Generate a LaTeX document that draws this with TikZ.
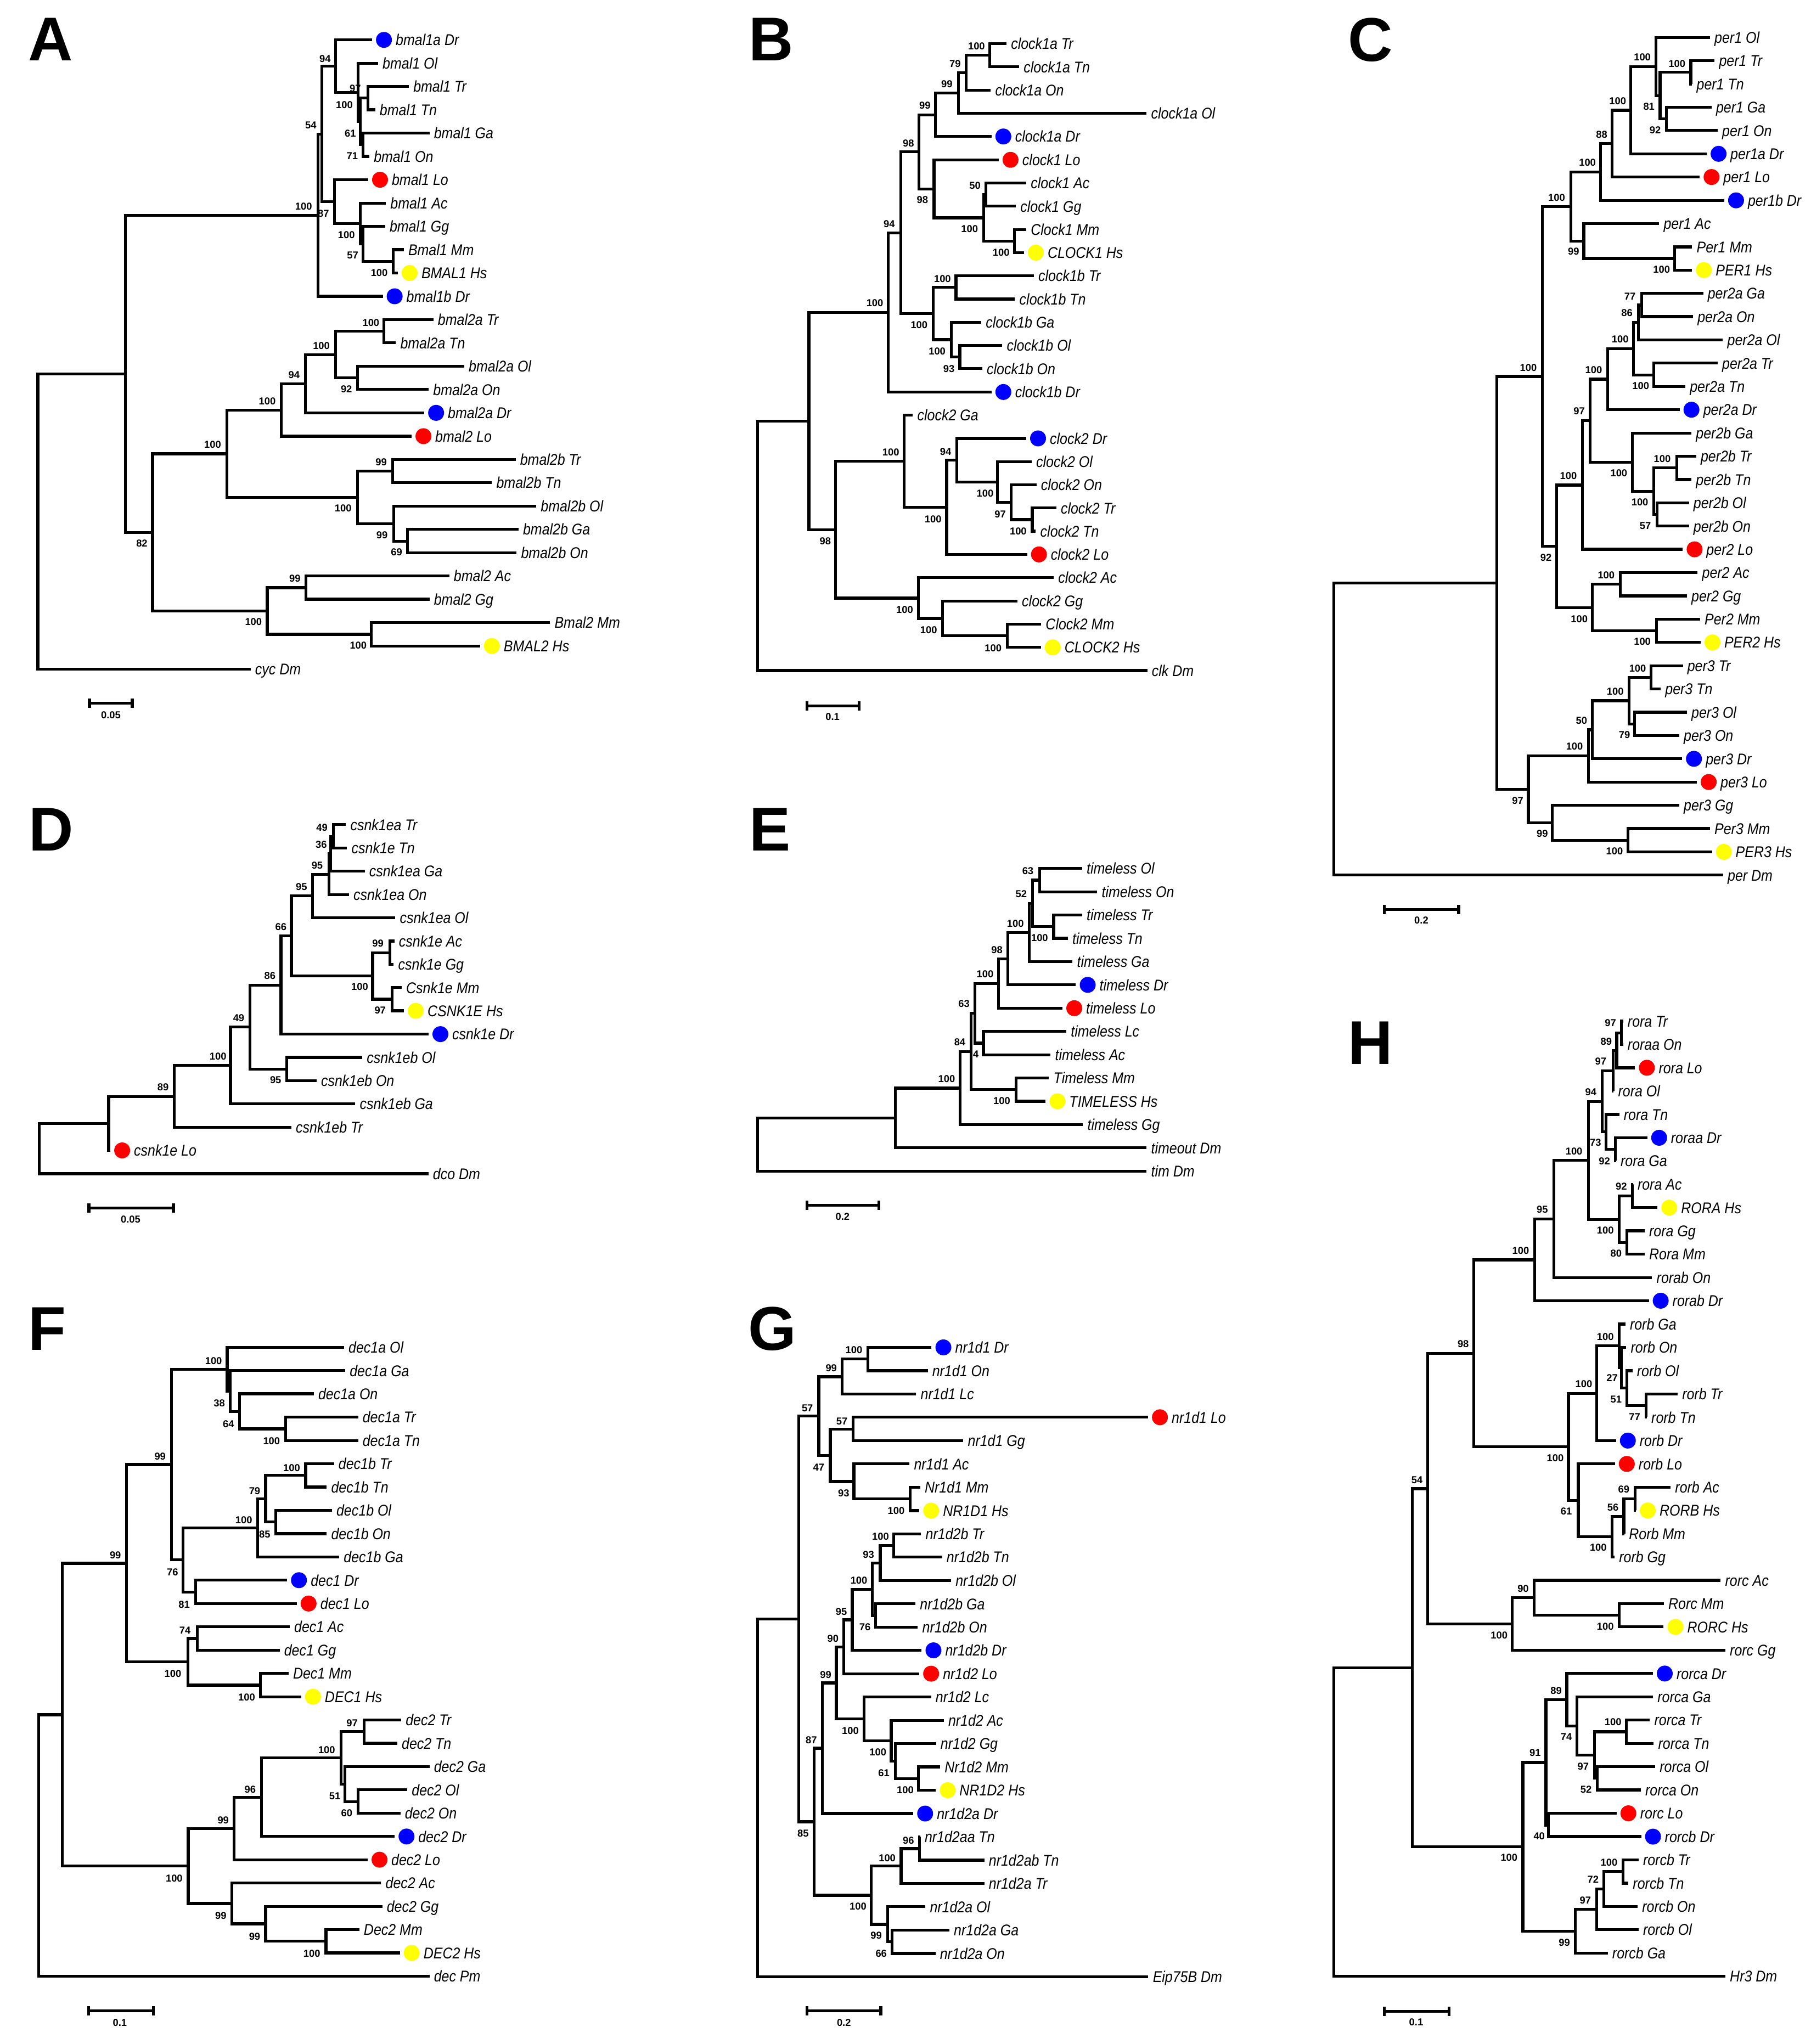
\documentclass[tikz,border=0pt]{standalone}
\usepackage{fontspec}
\setmainfont{Liberation Sans}
\newfontfamily\leaffont{Liberation Sans}[FakeStretch=0.88]
\usetikzlibrary{arrows.meta}
\newcounter{bsn}

\begin{document}
\begin{tikzpicture}[x=0.02cm,y=-0.02cm]

\newcommand{\lf}[4]{\node[lname] (#1) at (#2,#3) {#4};}
\newcommand{\dl}[5]{\node[spdot,fill=#5] (#1) at (#2,#3) {};
  \node[lname,inner xsep=0pt] (#1t) at (#1.east) {#4};}
\newcommand{\cl}[3]{\draw[br] (#2) -| (#1) |- (#3);}
\newcommand{\bv}[3]{\stepcounter{bsn}\node[boot] (bs\arabic{bsn}) at (#1,#2) {#3};}

 \definecolor{drcol}{rgb}{0,0,1}
 \definecolor{locol}{rgb}{1,0,0}
 \definecolor{hscol}{rgb}{1,1,0}

 \tikzset{
      br/.style={line width=1.25pt},
      lname/.style={anchor=west,inner xsep=1.98pt,inner ysep=0pt,outer sep=0pt,
        text height=4.9pt,text depth=0pt,font=\leaffont\itshape\fontsize{6.8}{8}\selectfont},
      spdot/.style={circle,draw=none,inner sep=0pt,minimum size=0.244cm,outer sep=1.7pt},
      boot/.style={inner sep=0pt,text height=3.15pt,text depth=0pt,font=\bfseries\fontsize{4.4}{5}\selectfont},
      panel/.style={inner sep=0pt,text height=19.3pt,text depth=0pt,font=\bfseries\fontsize{27}{30}\selectfont},
      sbar/.style={line width=1.25pt,{Bar[width=4.1pt]}-{Bar[width=4.1pt]}},
    }

 \useasboundingbox (0,0) rectangle (1389,1568);

% ---------------- A
 \node[panel] (pA) at (38.8,29.7) {A};
 \dl{a0}{294.5}{30.6}{bmal1a Dr}{drcol}
 \lf{a1}{290}{48.5}{bmal1 Ol}
 \lf{a2}{313.6}{66.4}{bmal1 Tr}
 \lf{a3}{287.8}{84.2}{bmal1 Tn}
 \lf{a4}{329.4}{102.1}{bmal1 Ga}
 \lf{a5}{283.3}{120.0}{bmal1 On}
 \dl{a6}{291.5}{137.9}{bmal1 Lo}{locol}
 \lf{a7}{296}{155.8}{bmal1 Ac}
 \lf{a8}{295.4}{173.6}{bmal1 Gg}
 \lf{a9}{309.7}{191.5}{Bmal1 Mm}
 \dl{a10}{314.2}{209.4}{BMAL1 Hs}{hscol}
 \dl{a11}{302.7}{227.3}{bmal1b Dr}{drcol}
 \lf{a12}{332.4}{245.2}{bmal2a Tr}
 \lf{a13}{303.6}{263.0}{bmal2a Tn}
 \lf{a14}{356.1}{280.9}{bmal2a Ol}
 \lf{a15}{328.8}{298.8}{bmal2a On}
 \dl{a16}{334.5}{316.7}{bmal2a Dr}{drcol}
 \dl{a17}{324.8}{334.6}{bmal2 Lo}{locol}
 \lf{a18}{395.5}{352.4}{bmal2b Tr}
 \lf{a19}{377.3}{370.3}{bmal2b Tn}
 \lf{a20}{411.3}{388.2}{bmal2b Ol}
 \lf{a21}{397.7}{406.1}{bmal2b Ga}
 \lf{a22}{396.2}{424.0}{bmal2b On}
 \lf{a23}{344.6}{441.8}{bmal2 Ac}
 \lf{a24}{329.4}{459.7}{bmal2 Gg}
 \lf{a25}{421.9}{477.6}{Bmal2 Mm}
 \dl{a26}{377.3}{495.5}{BMAL2 Hs}{hscol}
 \lf{a27}{192.2}{513.4}{cyc Dm}

 \coordinate (an8) at (282.4,75.3);
 \coordinate (an9) at (278.4,111.0);
 \coordinate (an7) at (276.3,93.2);
 \coordinate (an6) at (274.8,70.9);
 \coordinate (an4) at (257.5,50.8);
 \coordinate (an10) at (301.5,200.5);
 \coordinate (an11) at (278.4,187.0);
 \coordinate (an12) at (276.3,171.4);
 \coordinate (an5) at (256.6,154.7);
 \coordinate (an3) at (246.9,102.8);
 \coordinate (an2) at (243.8,165.1);
 \coordinate (am1) at (294.5,254.1);
 \coordinate (am2) at (274.2,289.9);
 \coordinate (am3) at (257.5,272.0);
 \coordinate (am4) at (234.4,294.4);
 \coordinate (am5) at (215.6,314.5);
 \coordinate (am6) at (301.2,361.4);
 \coordinate (am7) at (312.7,415.1);
 \coordinate (am8) at (302.1,401.7);
 \coordinate (am9) at (274.2,381.6);
 \coordinate (am10) at (174,348.1);
 \coordinate (am11) at (234.7,450.8);
 \coordinate (am12) at (284.8,486.6);
 \coordinate (am13) at (205,468.7);
 \coordinate (am14) at (117,408.4);
 \coordinate (an1) at (96.3,286.8);
 \coordinate (aroot) at (29,400.1);

 \cl{an8}{a2}{a3} \cl{an9}{a4}{a5} \cl{an7}{an8}{an9} \cl{an6}{a1}{an7}
 \cl{an4}{a0}{an6} \cl{an10}{a9}{a10} \cl{an11}{a8}{an10} \cl{an12}{a7}{an11}
 \cl{an5}{a6}{an12} \cl{an3}{an4}{an5} \cl{an2}{an3}{a11}
 \cl{am1}{a12}{a13} \cl{am2}{a14}{a15} \cl{am3}{am1}{am2} \cl{am4}{am3}{a16}
 \cl{am5}{am4}{a17} \cl{am6}{a18}{a19} \cl{am7}{a21}{a22} \cl{am8}{a20}{am7}
 \cl{am9}{am6}{am8} \cl{am10}{am5}{am9} \cl{am11}{a23}{a24} \cl{am12}{a25}{a26}
 \cl{am13}{am11}{am12} \cl{am14}{am10}{am13} \cl{an1}{an2}{am14} \cl{aroot}{an1}{a27}

 \bv{272.5}{67.8}{97} \bv{268.7}{102.4}{61} \bv{270.2}{119.7}{71}
 \bv{264.1}{80.2}{100} \bv{249.3}{44.8}{94} \bv{290.9}{209.2}{100}
 \bv{270.5}{195.8}{57} \bv{265.7}{180.0}{100} \bv{248.1}{163.9}{87}
 \bv{238.4}{96.1}{54} \bv{232.9}{158.2}{100} \bv{284.5}{247.4}{100}
 \bv{265.7}{298.4}{92} \bv{246.5}{265.3}{100} \bv{225.6}{287.5}{94}
 \bv{205}{307.8}{100} \bv{292.4}{354.6}{99} \bv{304.2}{423.4}{69}
 \bv{293}{410.2}{99} \bv{263.2}{389.9}{100} \bv{163.1}{341.1}{100}
 \bv{226.2}{443.5}{99} \bv{274.8}{494.8}{100} \bv{194.4}{477}{100}
 \bv{108.8}{416.8}{82}

 \draw[sbar] (67.5,539.5) -- (102.5,539.5);
 \node[boot] (sA) at (85,548.5) {0.05};

% ---------------- B
 \node[panel] (pB) at (591.3,29.4) {B};
 \lf{b0}{772}{33.5}{clock1a Tr}
 \lf{b1}{781.7}{51.3}{clock1a Tn}
 \lf{b2}{759.9}{69.1}{clock1a On}
 \lf{b3}{879.5}{86.9}{clock1a Ol}
 \dl{b4}{769.6}{104.7}{clock1a Dr}{drcol}
 \dl{b5}{775.1}{122.6}{clock1 Lo}{locol}
 \lf{b6}{787.2}{140.4}{clock1 Ac}
 \lf{b7}{779.2}{158.2}{clock1 Gg}
 \lf{b8}{787.2}{176.0}{Clock1 Mm}
 \dl{b9}{794.5}{193.8}{CLOCK1 Hs}{hscol}
 \lf{b10}{793}{211.6}{clock1b Tr}
 \lf{b11}{778.5}{229.4}{clock1b Tn}
 \lf{b12}{752.7}{247.2}{clock1b Ga}
 \lf{b13}{768.8}{265.0}{clock1b Ol}
 \lf{b14}{753.4}{282.8}{clock1b On}
 \dl{b15}{769.6}{300.7}{clock1b Dr}{drcol}
 \lf{b16}{700.2}{318.5}{clock2 Ga}
 \dl{b17}{796.2}{336.3}{clock2 Dr}{drcol}
 \lf{b18}{791.3}{354.1}{clock2 Ol}
 \lf{b19}{795}{371.9}{clock2 On}
 \lf{b20}{810.2}{389.7}{clock2 Tr}
 \lf{b21}{794.5}{407.5}{clock2 Tn}
 \dl{b22}{796.9}{425.3}{clock2 Lo}{locol}
 \lf{b23}{808.2}{443.1}{clock2 Ac}
 \lf{b24}{780.4}{461.0}{clock2 Gg}
 \lf{b25}{798.6}{478.8}{Clock2 Mm}
 \dl{b26}{807.5}{496.6}{CLOCK2 Hs}{hscol}
 \lf{b27}{880}{514.4}{clk Dm}

 \coordinate (bn1) at (759.2,42.4);
 \coordinate (bn2) at (741,55.8);
 \coordinate (bn3) at (735,71.4);
 \coordinate (bn4) at (717.6,88.1);
 \coordinate (bn5) at (778,184.9);
 \coordinate (bn6) at (756.3,149.3);
 \coordinate (bn7) at (754.6,167.1);
 \coordinate (bn8) at (716.4,144.9);
 \coordinate (bn9) at (705,116.5);
 \coordinate (bn10) at (733.3,220.5);
 \coordinate (bn11) at (736.2,273.9);
 \coordinate (bn12) at (729.7,260.6);
 \coordinate (bn13) at (715.7,240.6);
 \coordinate (bn14) at (691,178.6);
 \coordinate (bn15) at (681.4,239.7);
 \coordinate (bn16) at (791.8,398.6);
 \coordinate (bn17) at (775.6,385.3);
 \coordinate (bn18) at (765.2,369.7);
 \coordinate (bn19) at (733.8,353.0);
 \coordinate (bn20) at (726.1,389.2);
 \coordinate (bn21) at (693.4,353.9);
 \coordinate (bn22) at (772.7,487.7);
 \coordinate (bn23) at (722.9,474.4);
 \coordinate (bn24) at (704.3,458.8);
 \coordinate (bn25) at (641,406.4);
 \coordinate (bn26) at (620.5,323.1);
 \coordinate (broot) at (581,418.8);

 \cl{bn1}{b0}{b1} \cl{bn2}{bn1}{b2} \cl{bn3}{bn2}{b3} \cl{bn4}{bn3}{b4}
 \cl{bn5}{b8}{b9} \cl{bn6}{b6}{b7} \cl{bn7}{bn6}{bn5} \cl{bn8}{b5}{bn7}
 \cl{bn9}{bn4}{bn8} \cl{bn10}{b10}{b11} \cl{bn11}{b13}{b14} \cl{bn12}{b12}{bn11}
 \cl{bn13}{bn10}{bn12} \cl{bn14}{bn9}{bn13} \cl{bn15}{bn14}{b15}
 \cl{bn16}{b20}{b21} \cl{bn17}{b19}{bn16} \cl{bn18}{b18}{bn17} \cl{bn19}{b17}{bn18}
 \cl{bn20}{bn19}{b22} \cl{bn21}{b16}{bn20} \cl{bn22}{b25}{b26} \cl{bn23}{b24}{bn22}
 \cl{bn24}{b23}{bn23} \cl{bn25}{bn21}{bn24} \cl{bn26}{bn15}{bn25} \cl{broot}{bn26}{b27}

 \bv{749}{35.3}{100} \bv{732.6}{48.6}{79} \bv{726.3}{64.3}{99}
 \bv{709.4}{81}{99} \bv{767.9}{193.4}{100} \bv{747.8}{142.1}{50}
 \bv{743.7}{175.3}{100} \bv{707.5}{153.3}{98} \bv{696.8}{109.7}{98}
 \bv{722.9}{213.7}{100} \bv{727.8}{282.8}{93} \bv{718.8}{269.5}{100}
 \bv{705}{249.3}{100} \bv{682.1}{171.8}{94} \bv{671}{232.5}{100}
 \bv{781}{407.4}{100} \bv{767.2}{394.2}{97} \bv{755.6}{378.4}{100}
 \bv{725.3}{346.3}{94} \bv{715.7}{398.3}{100} \bv{683.3}{347}{100}
 \bv{761.8}{497.1}{100} \bv{712.3}{483.2}{100} \bv{693.9}{467.5}{100}
 \bv{633}{415.1}{98}

 \draw[sbar] (617.8,541.5) -- (660.1,541.5);
 \node[boot] (sB) at (638.6,549.5) {0.1};

% ---------------- C
 \node[panel] (pC) at (1051.3,29.8) {C};
 \lf{c0}{1311.6}{28.7}{per1 Ol}
 \lf{c1}{1315.1}{46.6}{per1 Tr}
 \lf{c2}{1297.9}{64.4}{per1 Tn}
 \lf{c3}{1312.8}{82.3}{per1 Ga}
 \lf{c4}{1317.5}{100.1}{per1 On}
 \dl{c5}{1318.2}{118.0}{per1a Dr}{drcol}
 \dl{c6}{1312.8}{135.8}{per1 Lo}{locol}
 \dl{c7}{1331.6}{153.7}{per1b Dr}{drcol}
 \lf{c8}{1272.6}{171.5}{per1 Ac}
 \lf{c9}{1297.9}{189.4}{Per1 Mm}
 \dl{c10}{1306.9}{207.2}{PER1 Hs}{hscol}
 \lf{c11}{1306.4}{225.1}{per2a Ga}
 \lf{c12}{1298.6}{242.9}{per2a On}
 \lf{c13}{1321.5}{260.8}{per2a Ol}
 \lf{c14}{1317.5}{278.6}{per2a Tr}
 \lf{c15}{1292.7}{296.5}{per2a Tn}
 \dl{c16}{1297.4}{314.3}{per2a Dr}{drcol}
 \lf{c17}{1297.4}{332.2}{per2b Ga}
 \lf{c18}{1301}{350.0}{per2b Tr}
 \lf{c19}{1297.4}{367.9}{per2b Tn}
 \lf{c20}{1295.5}{385.7}{per2b Ol}
 \lf{c21}{1295.5}{403.6}{per2b On}
 \dl{c22}{1299.8}{421.4}{per2 Lo}{locol}
 \lf{c23}{1302.1}{439.3}{per2 Ac}
 \lf{c24}{1293.9}{457.1}{per2 Gg}
 \lf{c25}{1304}{475.0}{Per2 Mm}
 \dl{c26}{1313.5}{492.8}{PER2 Hs}{hscol}
 \lf{c27}{1290.8}{510.7}{per3 Tr}
 \lf{c28}{1273.8}{528.5}{per3 Tn}
 \lf{c29}{1293.9}{546.4}{per3 Ol}
 \lf{c30}{1288}{564.2}{per3 On}
 \dl{c31}{1299.3}{582.1}{per3 Dr}{drcol}
 \dl{c32}{1310.6}{599.9}{per3 Lo}{locol}
 \lf{c33}{1288}{617.8}{per3 Gg}
 \lf{c34}{1311.6}{635.6}{Per3 Mm}
 \dl{c35}{1322.2}{653.5}{PER3 Hs}{hscol}
 \lf{c36}{1321.7}{671.3}{per Dm}

 \coordinate (cn1) at (1296.9,55.5);
 \coordinate (cn2) at (1278.1,91.2);
 \coordinate (cn3) at (1273.3,73.4);
 \coordinate (cn4) at (1270.3,51.1);
 \coordinate (cn5) at (1250.9,84.6);
 \coordinate (cn6) at (1236.5,110.2);
 \coordinate (cn7) at (1227.8,132.0);
 \coordinate (cn8) at (1284.4,198.3);
 \coordinate (cn9) at (1214.8,184.9);
 \coordinate (cn10) at (1204.9,158.5);
 \coordinate (cn11) at (1259.2,234.0);
 \coordinate (cn12) at (1256.8,247.4);
 \coordinate (cn13) at (1268.6,287.6);
 \coordinate (cn14) at (1253,267.5);
 \coordinate (cn15) at (1233.2,290.9);
 \coordinate (cn16) at (1286.1,359.0);
 \coordinate (cn17) at (1271,394.7);
 \coordinate (cn18) at (1268.6,376.9);
 \coordinate (cn19) at (1252.1,354.6);
 \coordinate (cn20) at (1219.5,322.8);
 \coordinate (cn21) at (1213.6,372.1);
 \coordinate (cn22) at (1242.7,448.2);
 \coordinate (cn23) at (1270.7,483.9);
 \coordinate (cn24) at (1221.4,466.1);
 \coordinate (cn25) at (1194,419.1);
 \coordinate (cn26) at (1182.9,288.8);
 \coordinate (cn27) at (1266.3,519.6);
 \coordinate (cn28) at (1253.7,555.3);
 \coordinate (cn29) at (1249.5,537.5);
 \coordinate (cn30) at (1221.4,559.8);
 \coordinate (cn31) at (1218.3,579.9);
 \coordinate (cn32) at (1248.6,644.6);
 \coordinate (cn33) at (1190.7,631.2);
 \coordinate (cn34) at (1172.3,605.6);
 \coordinate (cn35) at (1148.2,447.2);
 \coordinate (croot) at (1023.1,559.3);

 \cl{cn1}{c1}{c2} \cl{cn2}{c3}{c4} \cl{cn3}{cn1}{cn2} \cl{cn4}{c0}{cn3}
 \cl{cn5}{cn4}{c5} \cl{cn6}{cn5}{c6} \cl{cn7}{cn6}{c7} \cl{cn8}{c9}{c10}
 \cl{cn9}{c8}{cn8} \cl{cn10}{cn7}{cn9} \cl{cn11}{c11}{c12} \cl{cn12}{cn11}{c13}
 \cl{cn13}{c14}{c15} \cl{cn14}{cn12}{cn13} \cl{cn15}{cn14}{c16} \cl{cn16}{c18}{c19}
 \cl{cn17}{c20}{c21} \cl{cn18}{cn16}{cn17} \cl{cn19}{c17}{cn18} \cl{cn20}{cn15}{cn19}
 \cl{cn21}{cn20}{c22} \cl{cn22}{c23}{c24} \cl{cn23}{c25}{c26} \cl{cn24}{cn22}{cn23}
 \cl{cn25}{cn21}{cn24} \cl{cn26}{cn10}{cn25} \cl{cn27}{c27}{c28} \cl{cn28}{c29}{c30}
 \cl{cn29}{cn27}{cn28} \cl{cn30}{cn29}{c31} \cl{cn31}{cn30}{c32} \cl{cn32}{c34}{c35}
 \cl{cn33}{c33}{cn32} \cl{cn34}{cn31}{cn33} \cl{cn35}{cn26}{cn34} \cl{croot}{cn35}{c36}

 \bv{1286.3}{48.7}{100} \bv{1269.6}{99.8}{92} \bv{1264.8}{81.8}{81}
 \bv{1259.7}{43.6}{100} \bv{1240.8}{77.3}{100} \bv{1228.5}{103.1}{88}
 \bv{1217.6}{124.7}{100} \bv{1274.5}{206.6}{100} \bv{1207}{192.9}{99}
 \bv{1194}{151.6}{100} \bv{1250.2}{227.1}{77} \bv{1247.9}{240.1}{86}
 \bv{1258.5}{295.8}{100} \bv{1242.7}{260.1}{100} \bv{1222.4}{283.7}{100}
 \bv{1275}{351.8}{100} \bv{1262}{403.3}{57} \bv{1257.8}{385.2}{100}
 \bv{1241.7}{362.7}{100} \bv{1211.3}{315.2}{97} \bv{1203}{365.1}{100}
 \bv{1232}{441.2}{100} \bv{1259.7}{492}{100} \bv{1211.3}{474.6}{100}
 \bv{1185.8}{427.5}{92} \bv{1172.3}{281.9}{100} \bv{1256.1}{512.5}{100}
 \bv{1246}{563.5}{79} \bv{1238.9}{530.2}{100} \bv{1213.1}{552.7}{50}
 \bv{1207.7}{572.5}{100} \bv{1238.4}{653}{100} \bv{1183}{639.4}{99}
 \bv{1164.1}{614.3}{97}

 \draw[sbar] (1060.7,697.7) -- (1119.9,697.7);
 \node[boot] (sC) at (1090.2,705.9) {0.2};

% ---------------- D
 \node[panel] (pD) at (39.2,635.7) {D};
 \lf{d0}{265.3}{632.6}{csnk1ea Tr}
 \lf{d1}{266.2}{650.5}{csnk1e Tn}
 \lf{d2}{279.8}{668.3}{csnk1ea Ga}
 \lf{d3}{267.7}{686.2}{csnk1ea On}
 \lf{d4}{303.2}{704.0}{csnk1ea Ol}
 \lf{d5}{302.5}{721.9}{csnk1e Ac}
 \lf{d6}{302}{739.7}{csnk1e Gg}
 \lf{d7}{308.1}{757.6}{Csnk1e Mm}
 \dl{d8}{318.9}{775.4}{CSNK1E Hs}{hscol}
 \dl{d9}{337.8}{793.3}{csnk1e Dr}{drcol}
 \lf{d10}{277.9}{811.1}{csnk1eb Ol}
 \lf{d11}{242.8}{829.0}{csnk1eb On}
 \lf{d12}{272.5}{846.8}{csnk1eb Ga}
 \lf{d13}{223.5}{864.7}{csnk1eb Tr}
 \dl{d14}{93.7}{882.5}{csnk1e Lo}{locol}
 \lf{d15}{328.6}{900.4}{dco Dm}

 \coordinate (dn1) at (255.6,641.6);
 \coordinate (dn2) at (253.6,654.9);
 \coordinate (dn3) at (252.5,670.6);
 \coordinate (dn4) at (239.7,687.3);
 \coordinate (dn5) at (299.1,730.8);
 \coordinate (dn6) at (300.8,766.5);
 \coordinate (dn7) at (285.8,748.7);
 \coordinate (dn8) at (223.5,718.0);
 \coordinate (dn9) at (215.5,755.7);
 \coordinate (dn10) at (219.9,820.1);
 \coordinate (dn11) at (191.6,787.9);
 \coordinate (dn12) at (176.8,817.4);
 \coordinate (dn13) at (133.6,841.1);
 \coordinate (dn14) at (83.3,861.8);
 \coordinate (droot) at (30.1,881.1);

 \cl{dn1}{d0}{d1} \cl{dn2}{dn1}{d2} \cl{dn3}{dn2}{d3} \cl{dn4}{dn3}{d4}
 \cl{dn5}{d5}{d6} \cl{dn6}{d7}{d8} \cl{dn7}{dn5}{dn6} \cl{dn8}{dn4}{dn7}
 \cl{dn9}{dn8}{d9} \cl{dn10}{d10}{d11} \cl{dn11}{dn9}{dn10} \cl{dn12}{dn11}{d12}
 \cl{dn13}{dn12}{d13} \cl{dn14}{dn13}{d14} \cl{droot}{dn14}{d15}

 \bv{246.9}{634.7}{49} \bv{246.4}{647.6}{36} \bv{243.3}{663.7}{95}
 \bv{231.2}{680.3}{95} \bv{289.9}{723.7}{99} \bv{291.6}{774.8}{97}
 \bv{275.9}{756.9}{100} \bv{215.5}{711}{66} \bv{207}{748.6}{86}
 \bv{211.4}{828.5}{95} \bv{183.1}{780.8}{49} \bv{167.2}{810.2}{100}
 \bv{125.1}{833.9}{89}

 \draw[sbar] (67.1,926.7) -- (134.1,926.7);
 \node[boot] (sD) at (100.2,935.3) {0.05};

% ---------------- E
 \node[panel] (pE) at (590.5,635.7) {E};
 \lf{e0}{830}{666.2}{timeless Ol}
 \lf{e1}{841.6}{684.1}{timeless On}
 \lf{e2}{830}{701.9}{timeless Tr}
 \lf{e3}{819.1}{719.8}{timeless Tn}
 \lf{e4}{822.7}{737.6}{timeless Ga}
 \dl{e5}{834.3}{755.5}{timeless Dr}{drcol}
 \dl{e6}{824}{773.4}{timeless Lo}{locol}
 \lf{e7}{817.9}{791.2}{timeless Lc}
 \lf{e8}{805.8}{809.1}{timeless Ac}
 \lf{e9}{804.6}{826.9}{Timeless Mm}
 \dl{e10}{811.1}{844.8}{TIMELESS Hs}{hscol}
 \lf{e11}{830.7}{862.7}{timeless Gg}
 \lf{e12}{879.5}{880.5}{timeout Dm}
 \lf{e13}{879.5}{898.4}{tim Dm}

 \coordinate (en1) at (797.4,675.2);
 \coordinate (en2) at (808.2,710.9);
 \coordinate (en3) at (792,693.1);
 \coordinate (en4) at (789.6,715.4);
 \coordinate (en5) at (773.2,735.5);
 \coordinate (en6) at (765.9,754.5);
 \coordinate (en7) at (754.3,800.2);
 \coordinate (en8) at (747.8,777.4);
 \coordinate (en9) at (779.2,835.9);
 \coordinate (en10) at (744.7,806.7);
 \coordinate (en11) at (736.5,834.7);
 \coordinate (en12) at (686.7,857.6);
 \coordinate (eroot) at (581,878);

 \cl{en1}{e0}{e1} \cl{en2}{e2}{e3} \cl{en3}{en1}{en2} \cl{en4}{en3}{e4}
 \cl{en5}{en4}{e5} \cl{en6}{en5}{e6} \cl{en7}{e7}{e8} \cl{en8}{en6}{en7}
 \cl{en9}{e9}{e10} \cl{en10}{en8}{en9} \cl{en11}{en10}{e11} \cl{en12}{en11}{e12}
 \cl{eroot}{en12}{e13}

 \bv{788.4}{667.8}{63} \bv{797.4}{719.4}{100} \bv{783.3}{685.6}{52}
 \bv{778.8}{708.2}{100} \bv{764.7}{728.6}{98} \bv{755.6}{747.3}{100}
 \bv{748.5}{808.7}{4} \bv{739.4}{769.8}{63} \bv{768.4}{844.2}{100}
 \bv{736.2}{799.5}{84} \bv{726.1}{827.4}{100}

 \draw[sbar] (618,924.7) -- (675.3,924.7);
 \node[boot] (sE) at (646.3,933.3) {0.2};

% ---------------- F
 \node[panel] (pF) at (36.1,1018.8) {F};
 \lf{f0}{263.9}{1033.5}{dec1a Ol}
 \lf{f1}{264.8}{1051.4}{dec1a Ga}
 \lf{f2}{240.7}{1069.2}{dec1a On}
 \lf{f3}{274.7}{1087.1}{dec1a Tr}
 \lf{f4}{274.7}{1105.0}{dec1a Tn}
 \lf{f5}{256.2}{1122.9}{dec1b Tr}
 \lf{f6}{250.6}{1140.7}{dec1b Tn}
 \lf{f7}{254.6}{1158.6}{dec1b Ol}
 \lf{f8}{250.6}{1176.5}{dec1b On}
 \lf{f9}{260.2}{1194.3}{dec1b Ga}
 \dl{f10}{229.3}{1212.2}{dec1 Dr}{drcol}
 \dl{f11}{236.7}{1230.1}{dec1 Lo}{locol}
 \lf{f12}{222.2}{1247.9}{dec1 Ac}
 \lf{f13}{214.5}{1265.8}{dec1 Gg}
 \lf{f14}{221.3}{1283.7}{Dec1 Mm}
 \dl{f15}{240.1}{1301.6}{DEC1 Hs}{hscol}
 \lf{f16}{307.7}{1319.4}{dec2 Tr}
 \lf{f17}{304.7}{1337.3}{dec2 Tn}
 \lf{f18}{329.4}{1355.2}{dec2 Ga}
 \lf{f19}{312.4}{1373.0}{dec2 Ol}
 \lf{f20}{307.1}{1390.9}{dec2 On}
 \dl{f21}{311.8}{1408.8}{dec2 Dr}{drcol}
 \dl{f22}{291.1}{1426.6}{dec2 Lo}{locol}
 \lf{f23}{292.3}{1444.5}{dec2 Ac}
 \lf{f24}{293.2}{1462.4}{dec2 Gg}
 \lf{f25}{275.6}{1480.2}{Dec2 Mm}
 \dl{f26}{315.8}{1498.1}{DEC2 Hs}{hscol}
 \lf{f27}{329.4}{1516.0}{dec Pm}

 \coordinate (fn1) at (219.1,1096.1);
 \coordinate (fn2) at (183.9,1082.7);
 \coordinate (fn3) at (176.5,1067.1);
 \coordinate (fn4) at (174.3,1050.3);
 \coordinate (fn5) at (234.5,1131.8);
 \coordinate (fn6) at (211.4,1167.6);
 \coordinate (fn7) at (203.7,1149.7);
 \coordinate (fn8) at (197.5,1172.0);
 \coordinate (fn9) at (150.2,1221.2);
 \coordinate (fn10) at (140.4,1196.6);
 \coordinate (fn11) at (131.7,1123.5);
 \coordinate (fn12) at (151.2,1256.9);
 \coordinate (fn13) at (199.7,1292.7);
 \coordinate (fn14) at (144.1,1274.8);
 \coordinate (fn15) at (97.1,1199.2);
 \coordinate (fn16) at (279.3,1328.4);
 \coordinate (fn17) at (274.7,1382.0);
 \coordinate (fn18) at (264.5,1368.6);
 \coordinate (fn19) at (261.7,1348.5);
 \coordinate (fn20) at (200.6,1378.7);
 \coordinate (fn21) at (179.6,1402.7);
 \coordinate (fn22) at (250,1489.2);
 \coordinate (fn23) at (203.7,1475.8);
 \coordinate (fn24) at (178,1460.2);
 \coordinate (fn25) at (144.4,1431.5);
 \coordinate (fn26) at (47.7,1315.4);
 \coordinate (froot) at (29.8,1415.7);

 \cl{fn1}{f3}{f4} \cl{fn2}{f2}{fn1} \cl{fn3}{f1}{fn2} \cl{fn4}{f0}{fn3}
 \cl{fn5}{f5}{f6} \cl{fn6}{f7}{f8} \cl{fn7}{fn5}{fn6} \cl{fn8}{fn7}{f9}
 \cl{fn9}{f10}{f11} \cl{fn10}{fn8}{fn9} \cl{fn11}{fn4}{fn10} \cl{fn12}{f12}{f13}
 \cl{fn13}{f14}{f15} \cl{fn14}{fn12}{fn13} \cl{fn15}{fn11}{fn14} \cl{fn16}{f16}{f17}
 \cl{fn17}{f19}{f20} \cl{fn18}{f18}{fn17} \cl{fn19}{fn16}{fn18} \cl{fn20}{fn19}{f21}
 \cl{fn21}{fn20}{f22} \cl{fn22}{f25}{f26} \cl{fn23}{f24}{fn22} \cl{fn24}{f23}{fn23}
 \cl{fn25}{fn21}{fn24} \cl{fn26}{fn15}{fn25} \cl{froot}{fn26}{f27}

 \bv{208.3}{1105.4}{100} \bv{175.3}{1092.4}{64} \bv{168.2}{1076.4}{38}
 \bv{163.8}{1044}{100} \bv{223.7}{1125.8}{100} \bv{203}{1176.8}{85}
 \bv{195.3}{1143.7}{79} \bv{187}{1166}{100} \bv{141.3}{1230.7}{81}
 \bv{132.3}{1205.8}{76} \bv{122.8}{1117.3}{99} \bv{141.9}{1250.4}{74}
 \bv{189.2}{1301.8}{100} \bv{132.6}{1283.9}{100} \bv{88.5}{1192.8}{99}
 \bv{270.1}{1321.9}{97} \bv{266}{1390.7}{60} \bv{256.8}{1377.6}{51}
 \bv{250.6}{1342.3}{100} \bv{191.9}{1372.8}{96} \bv{171.2}{1396.2}{99}
 \bv{239.2}{1498.5}{100} \bv{195.3}{1485.5}{99} \bv{169.4}{1469.5}{99}
 \bv{133.6}{1440.9}{100}

 \draw[sbar] (66.9,1542.4) -- (118.7,1542.4);
 \node[boot] (sF) at (91.9,1551.7) {0.1};

% ---------------- G
 \node[panel] (pG) at (592.4,1018.8) {G};
 \dl{g0}{723.6}{1033.6}{nr1d1 Dr}{drcol}
 \lf{g1}{711.6}{1051.5}{nr1d1 On}
 \lf{g2}{702.7}{1069.4}{nr1d1 Lc}
 \dl{g3}{889.7}{1087.2}{nr1d1 Lo}{locol}
 \lf{g4}{738.9}{1105.1}{nr1d1 Gg}
 \lf{g5}{697.6}{1123.0}{nr1d1 Ac}
 \lf{g6}{705.8}{1140.9}{Nr1d1 Mm}
 \dl{g7}{714.2}{1158.8}{NR1D1 Hs}{hscol}
 \lf{g8}{706.5}{1176.6}{nr1d2b Tr}
 \lf{g9}{722.6}{1194.5}{nr1d2b Tn}
 \lf{g10}{729.5}{1212.4}{nr1d2b Ol}
 \lf{g11}{702.2}{1230.3}{nr1d2b Ga}
 \lf{g12}{704}{1248.2}{nr1d2b On}
 \dl{g13}{716}{1266.0}{nr1d2b Dr}{drcol}
 \dl{g14}{714.2}{1283.9}{nr1d2 Lo}{locol}
 \lf{g15}{714.2}{1301.8}{nr1d2 Lc}
 \lf{g16}{723.9}{1319.7}{nr1d2 Ac}
 \lf{g17}{718}{1337.6}{nr1d2 Gg}
 \lf{g18}{721.1}{1355.4}{Nr1d2 Mm}
 \dl{g19}{726.9}{1373.3}{NR1D2 Hs}{hscol}
 \dl{g20}{709.6}{1391.2}{nr1d2a Dr}{drcol}
 \lf{g21}{705.8}{1409.1}{nr1d2aa Tn}
 \lf{g22}{755}{1427.0}{nr1d2ab Tn}
 \lf{g23}{755}{1444.8}{nr1d2a Tr}
 \lf{g24}{709.8}{1462.7}{nr1d2a Ol}
 \lf{g25}{728.2}{1480.6}{nr1d2a Ga}
 \lf{g26}{717.5}{1498.5}{nr1d2a On}
 \lf{g27}{880.8}{1516.4}{Eip75B Dm}

 \coordinate (gn1) at (665.7,1042.6);
 \coordinate (gn2) at (645.8,1056.1);
 \coordinate (gn3) at (654.2,1096.2);
 \coordinate (gn4) at (698.1,1149.9);
 \coordinate (gn5) at (655,1136.5);
 \coordinate (gn6) at (636.9,1116.4);
 \coordinate (gn7) at (628,1086.3);
 \coordinate (gn8) at (685.6,1185.6);
 \coordinate (gn9) at (675.2,1199.0);
 \coordinate (gn10) at (671.6,1239.3);
 \coordinate (gn11) at (669,1219.2);
 \coordinate (gn12) at (653.7,1242.6);
 \coordinate (gn13) at (647.3,1263.3);
 \coordinate (gn14) at (704.5,1364.4);
 \coordinate (gn15) at (686.9,1351.0);
 \coordinate (gn16) at (683.6,1335.4);
 \coordinate (gn17) at (662.6,1318.6);
 \coordinate (gn18) at (641.5,1291.0);
 \coordinate (gn19) at (630.8,1341.1);
 \coordinate (gn20) at (705.3,1418.1);
 \coordinate (gn21) at (691.2,1431.5);
 \coordinate (gn22) at (684.3,1489.6);
 \coordinate (gn23) at (681,1476.2);
 \coordinate (gn24) at (668.3,1453.9);
 \coordinate (gn25) at (624.4,1397.5);
 \coordinate (gn26) at (612.6,1241.9);
 \coordinate (groot) at (581,1379.2);

 \cl{gn1}{g0}{g1} \cl{gn2}{gn1}{g2} \cl{gn3}{g3}{g4} \cl{gn4}{g6}{g7}
 \cl{gn5}{g5}{gn4} \cl{gn6}{gn3}{gn5} \cl{gn7}{gn2}{gn6} \cl{gn8}{g8}{g9}
 \cl{gn9}{gn8}{g10} \cl{gn10}{g11}{g12} \cl{gn11}{gn9}{gn10} \cl{gn12}{gn11}{g13}
 \cl{gn13}{gn12}{g14} \cl{gn14}{g18}{g19} \cl{gn15}{g17}{gn14} \cl{gn16}{g16}{gn15}
 \cl{gn17}{g15}{gn16} \cl{gn18}{gn13}{gn17} \cl{gn19}{gn18}{g20} \cl{gn20}{g21}{g22}
 \cl{gn21}{gn20}{g23} \cl{gn22}{g25}{g26} \cl{gn23}{g24}{gn22} \cl{gn24}{gn21}{gn23}
 \cl{gn25}{gn19}{gn24} \cl{gn26}{gn7}{gn25} \cl{groot}{gn26}{g27}

 \bv{655}{1035.5}{100} \bv{637.6}{1049.2}{99} \bv{645.8}{1090.1}{57}
 \bv{687.4}{1159}{100} \bv{647.1}{1145.2}{93} \bv{628}{1125.5}{47}
 \bv{619.3}{1080.1}{57} \bv{675.4}{1178.7}{100} \bv{666.2}{1192.4}{93}
 \bv{663.4}{1248.2}{76} \bv{658.8}{1212.1}{100} \bv{645.3}{1236.3}{95}
 \bv{638.9}{1256.8}{90} \bv{694.3}{1373.2}{100} \bv{678}{1360.2}{61}
 \bv{673.4}{1344.2}{100} \bv{652.2}{1327.4}{100} \bv{633.3}{1284.7}{99}
 \bv{622.3}{1334.9}{87} \bv{696.8}{1411.9}{96} \bv{680.5}{1425.2}{100}
 \bv{675.9}{1498.5}{66} \bv{672.1}{1484.8}{99} \bv{658.1}{1462.4}{100}
 \bv{616}{1406.3}{85}

 \draw[sbar] (617.8,1542.4) -- (676.7,1542.4);
 \node[boot] (sG) at (647.3,1551.7) {0.2};

% ---------------- H
 \node[panel] (pH) at (1051.1,799.5) {H};
 \lf{h0}{1245}{783.4}{rora Tr}
 \lf{h1}{1245}{801.3}{roraa On}
 \dl{h2}{1263.2}{819.1}{rora Lo}{locol}
 \lf{h3}{1237.7}{837.0}{rora Ol}
 \lf{h4}{1242}{854.9}{rora Tn}
 \dl{h5}{1272.6}{872.8}{roraa Dr}{drcol}
 \lf{h6}{1239.6}{890.6}{rora Ga}
 \lf{h7}{1252.6}{908.5}{rora Ac}
 \dl{h8}{1280.4}{926.4}{RORA Hs}{hscol}
 \lf{h9}{1261.5}{944.2}{rora Gg}
 \lf{h10}{1261.5}{962.1}{Rora Mm}
 \lf{h11}{1267.2}{980.0}{rorab On}
 \dl{h12}{1273.8}{997.8}{rorab Dr}{drcol}
 \lf{h13}{1246.7}{1015.7}{rorb Ga}
 \lf{h14}{1247.4}{1033.6}{rorb On}
 \lf{h15}{1252.1}{1051.5}{rorb Ol}
 \lf{h16}{1286.8}{1069.3}{rorb Tr}
 \lf{h17}{1263.2}{1087.2}{rorb Tn}
 \dl{h18}{1248.6}{1105.1}{rorb Dr}{drcol}
 \dl{h19}{1247.8}{1123.0}{rorb Lo}{locol}
 \lf{h20}{1281.4}{1140.8}{rorb Ac}
 \dl{h21}{1263.9}{1158.7}{RORB Hs}{hscol}
 \lf{h22}{1246}{1176.5}{Rorb Mm}
 \lf{h23}{1238.4}{1194.4}{rorb Gg}
 \lf{h24}{1319.8}{1212.3}{rorc Ac}
 \lf{h25}{1276.2}{1230.2}{Rorc Mm}
 \dl{h26}{1285.1}{1248.0}{RORC Hs}{hscol}
 \lf{h27}{1323.4}{1265.9}{rorc Gg}
 \dl{h28}{1276.9}{1283.8}{rorca Dr}{drcol}
 \lf{h29}{1267.9}{1301.6}{rorca Ga}
 \lf{h30}{1265.5}{1319.5}{rorca Tr}
 \lf{h31}{1268.4}{1337.4}{rorca Tn}
 \lf{h32}{1269.6}{1355.2}{rorca Ol}
 \lf{h33}{1258.5}{1373.1}{rorca On}
 \dl{h34}{1249}{1391.0}{rorc Lo}{locol}
 \dl{h35}{1267.9}{1408.9}{rorcb Dr}{drcol}
 \lf{h36}{1256.8}{1426.7}{rorcb Tr}
 \lf{h37}{1249}{1444.6}{rorcb Tn}
 \lf{h38}{1256.1}{1462.5}{rorcb On}
 \lf{h39}{1256.8}{1480.3}{rorcb Ol}
 \lf{h40}{1233.2}{1498.2}{rorcb Ga}
 \lf{h41}{1323.4}{1516.1}{Hr3 Dm}

 \coordinate (hn1) at (1243.8,792.4);
 \coordinate (hn2) at (1240.1,805.8);
 \coordinate (hn3) at (1237.2,821.4);
 \coordinate (hn5) at (1238.9,881.7);
 \coordinate (hn4) at (1232,868.3);
 \coordinate (hn6) at (1229,844.9);
 \coordinate (hn7) at (1252.1,917.5);
 \coordinate (hn8) at (1247.9,953.2);
 \coordinate (hn9) at (1242,935.4);
 \coordinate (hn10) at (1218.3,890.2);
 \coordinate (hn11) at (1191.9,935.1);
 \coordinate (hn12) at (1177,966.5);
 \coordinate (hn13) at (1262.5,1078.3);
 \coordinate (hn14) at (1247.9,1064.9);
 \coordinate (hn15) at (1243.8,1049.3);
 \coordinate (hn16) at (1241.9,1032.5);
 \coordinate (hn17) at (1224.7,1068.8);
 \coordinate (hn18) at (1254.2,1149.8);
 \coordinate (hn19) at (1245.5,1163.2);
 \coordinate (hn20) at (1236.5,1178.8);
 \coordinate (hn21) at (1210.6,1150.9);
 \coordinate (hn22) at (1203,1109.9);
 \coordinate (hn23) at (1130.5,1038.2);
 \coordinate (hn24) at (1241.9,1239.1);
 \coordinate (hn25) at (1176.6,1225.7);
 \coordinate (hn26) at (1160,1245.8);
 \coordinate (hn27) at (1094.9,1142.0);
 \coordinate (hn28) at (1247.4,1328.5);
 \coordinate (hn29) at (1225,1364.2);
 \coordinate (hn30) at (1223.1,1346.3);
 \coordinate (hn31) at (1209.6,1324.0);
 \coordinate (hn32) at (1201.8,1303.9);
 \coordinate (hn33) at (1187.7,1400.0);
 \coordinate (hn34) at (1185.8,1352.0);
 \coordinate (hn35) at (1244.8,1435.7);
 \coordinate (hn36) at (1230.1,1449.1);
 \coordinate (hn37) at (1224.7,1464.7);
 \coordinate (hn38) at (1208.4,1481.5);
 \coordinate (hn39) at (1168.1,1416.8);
 \coordinate (hn40) at (1083.3,1279.4);
 \coordinate (hroot) at (1023.1,1397.8);

 \cl{hn1}{h0}{h1} \cl{hn2}{hn1}{h2} \cl{hn3}{hn2}{h3} \cl{hn5}{h5}{h6}
 \cl{hn4}{h4}{hn5} \cl{hn6}{hn3}{hn4} \cl{hn7}{h7}{h8} \cl{hn8}{h9}{h10}
 \cl{hn9}{hn7}{hn8} \cl{hn10}{hn6}{hn9} \cl{hn11}{hn10}{h11} \cl{hn12}{hn11}{h12}
 \cl{hn13}{h16}{h17} \cl{hn14}{h15}{hn13} \cl{hn15}{h14}{hn14} \cl{hn16}{h13}{hn15}
 \cl{hn17}{hn16}{h18} \cl{hn18}{h20}{h21} \cl{hn19}{hn18}{h22} \cl{hn20}{hn19}{h23}
 \cl{hn21}{h19}{hn20} \cl{hn22}{hn17}{hn21} \cl{hn23}{hn12}{hn22} \cl{hn24}{h25}{h26}
 \cl{hn25}{h24}{hn24} \cl{hn26}{hn25}{h27} \cl{hn27}{hn23}{hn26} \cl{hn28}{h30}{h31}
 \cl{hn29}{h32}{h33} \cl{hn30}{hn28}{hn29} \cl{hn31}{h29}{hn30} \cl{hn32}{h28}{hn31}
 \cl{hn33}{h34}{h35} \cl{hn34}{hn32}{hn33} \cl{hn35}{h36}{h37} \cl{hn36}{hn35}{h38}
 \cl{hn37}{hn36}{h39} \cl{hn38}{hn37}{h40} \cl{hn39}{hn34}{hn38} \cl{hn40}{hn27}{hn39}
 \cl{hroot}{hn40}{h41}

 \bv{1235.3}{784.7}{97} \bv{1232}{798.7}{89} \bv{1227.8}{814}{97}
 \bv{1230.6}{890.6}{92} \bv{1223.8}{876.5}{73} \bv{1220.2}{837.7}{94}
 \bv{1243.6}{910}{92} \bv{1239.6}{961.5}{80} \bv{1231.3}{943.6}{100}
 \bv{1207.3}{883.2}{100} \bv{1183}{927.5}{95} \bv{1166.4}{959.4}{100}
 \bv{1253.8}{1087}{77} \bv{1239.6}{1073.2}{51} \bv{1236.5}{1057.1}{27}
 \bv{1231.3}{1025.3}{100} \bv{1214.8}{1061.7}{100} \bv{1245.5}{1142.3}{69}
 \bv{1237.2}{1156.1}{56} \bv{1225.9}{1186.9}{100} \bv{1201.4}{1159.4}{61}
 \bv{1192.9}{1118.4}{100} \bv{1122.3}{1030.9}{98} \bv{1231.3}{1247.5}{100}
 \bv{1168.3}{1218.6}{90} \bv{1149.9}{1254.4}{100} \bv{1086.9}{1135.4}{54}
 \bv{1237.2}{1320.7}{100} \bv{1216.5}{1372.7}{52} \bv{1214.3}{1355.1}{97}
 \bv{1201.4}{1332.2}{74} \bv{1193.6}{1297}{89} \bv{1180.6}{1408.5}{40}
 \bv{1177.5}{1344.6}{91} \bv{1234.2}{1428.6}{100} \bv{1221.9}{1441.8}{72}
 \bv{1216}{1457.5}{97} \bv{1199.9}{1490}{99} \bv{1157.5}{1425}{100}

 \draw[sbar] (1060.7,1542.8) -- (1112.6,1542.8);
 \node[boot] (sH) at (1086.2,1551.1) {0.1};
\end{tikzpicture}
\end{document}
